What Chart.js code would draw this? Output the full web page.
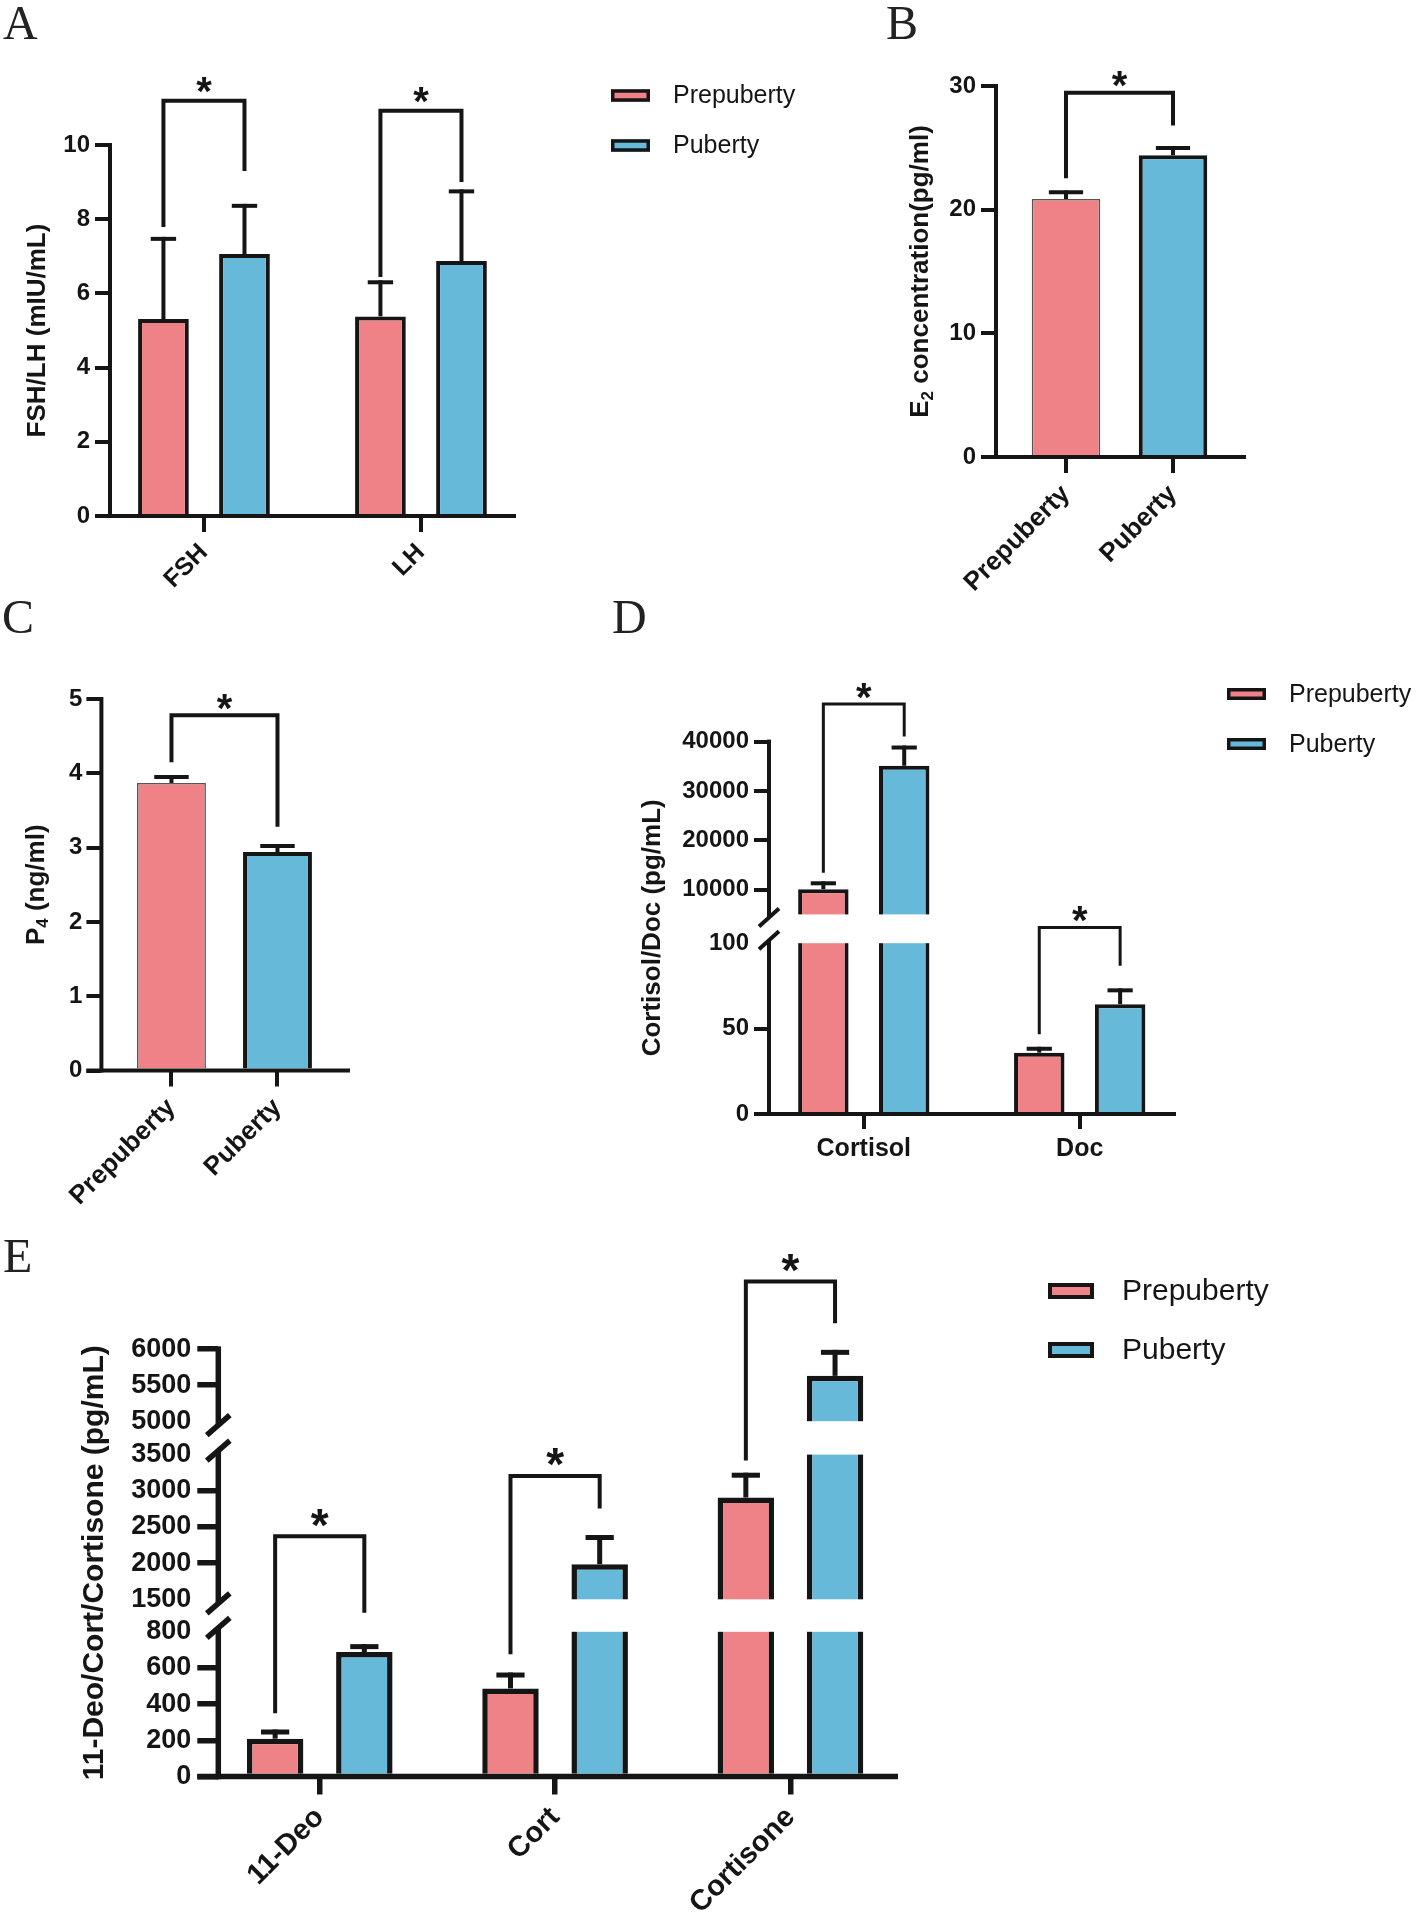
<!DOCTYPE html>
<html>
<head>
<meta charset="utf-8">
<script src="https://cdn.jsdelivr.net/npm/chart.js@4.4.1/dist/chart.umd.min.js"></script>
<style>
  html, body { margin: 0; padding: 0; background: #fff; }
  #page { position: relative; width: 1416px; height: 1918px; background: #fff; }
  #page canvas { position: absolute; left: 0; top: 0; }
</style>
</head>
<body>
<div id="page">
  <canvas id="chartA" width="1416" height="1918"></canvas>
  <canvas id="chartB" width="1416" height="1918"></canvas>
  <canvas id="chartC" width="1416" height="1918"></canvas>
  <canvas id="chartD" width="1416" height="1918"></canvas>
  <canvas id="chartE" width="1416" height="1918"></canvas>
</div>
<script>
// ---------- data ----------
const groups = ['Prepuberty', 'Puberty'];

// A: FSH / LH (mIU/mL)
const gonadLabels = ['FSH', 'LH'];
const gonadPre = [5.31, 5.38];
const gonadPreSD = [2.16, 0.92];
const gonadPub = [7.06, 6.87];
const gonadPubSD = [1.30, 1.88];
const gonadTicks = [0, 2, 4, 6, 8, 10];
// significance brackets: [top, left leg end, right leg end]
const gonadSig = [[11.19, 7.79, 9.30], [10.92, 6.44, 9.00]];

// B: E2 (pg/ml)
const e2Values = [20.86, 24.40];
const e2SD = [0.54, 0.58];
const e2Ticks = [0, 10, 20, 30];
const e2Sig = [[29.46, 22.55, 26.80]];

// C: P4 (ng/ml)
const p4Values = [3.87, 2.94];
const p4SD = [0.08, 0.08];
const p4Ticks = [0, 1, 2, 3, 4, 5];
const p4Sig = [[4.78, 4.15, 3.28]];

// D: Cortisol / Doc (pg/mL), broken axis
const adrenalLabels = ['Cortisol', 'Doc'];
const adrenalPre = [10100, 35.9];
const adrenalPreSD = [1200, 2.3];
const adrenalPub = [35100, 64.3];
const adrenalPubSD = [3700, 8.1];
const adrenalTicks = [0, 50, 100, 10000, 20000, 30000, 40000];
// [value, axis segment]
const adrenalSig = [
  [[47600, 1], [13440, 1], [41050, 1]],
  [[109.2, 0], [46.7, 0], [86.8, 0]]
];

// E: 11-Deo / Cort / Cortisone (pg/mL), broken axis
const steroidLabels = ['11-Deo', 'Cort', 'Cortisone'];
const steroidPre = [209, 487, 2907];
const steroidPreSD = [37, 74, 308];
const steroidPub = [688, 1985, 5629];
const steroidPubSD = [30, 369, 326];
const steroidTicks = [0, 200, 400, 600, 800, 1500, 2000, 2500, 3000, 3500, 5000, 5500, 6000];
const steroidSig = [
  [[1328, 0], [349, 0], [905, 0]],
  [[3203, 1], [676, 0], [2754, 1]],
  [[6939, 2], [3420, 1], [6358, 2]]
];

// ---------- style ----------
const ink = '#151515';
const pink = '#ee8287';
const blue = '#67b9da';
const SANS = "'Liberation Sans', Arial, Helvetica, sans-serif";
const SERIF = "'Liberation Serif', 'Times New Roman', serif";
Chart.defaults.font.family = SANS;
Chart.defaults.color = ink;

// axis breaks (value ranges + pixel share of each piece)
const BREAKS = {
  chartD: { segments: [{min: 0, max: 100, size: 170.8}, {min: 5000, max: 40000, size: 172.8}], gaps: [28.8] },
  chartE: { segments: [{min: 0, max: 800, size: 144.7}, {min: 1500, max: 3500, size: 144.7}, {min: 5000, max: 6000, size: 72.1}], gaps: [32.5, 33.4] }
};

class BrokenScale extends Chart.LinearScale {
  static id = 'broken';
  segPixel(v, seg) {
    const br = BREAKS[this.chart.canvas.id];
    const segs = br.segments;
    if (seg === undefined) {
      seg = segs.findIndex(s => v <= s.max);
      if (seg < 0) seg = segs.length - 1;
    }
    const total = segs.reduce((t, s) => t + s.size, 0) + br.gaps.reduce((t, g) => t + g, 0);
    const k = (this.bottom - this.top) / total;
    let off = 0;
    for (let i = 0; i < seg; i++) off += segs[i].size + br.gaps[i];
    const s = segs[seg];
    return this.bottom - k * (off + (v - s.min) / (s.max - s.min) * s.size);
  }
  getPixelForValue(v) {
    if (v === null || v === undefined || isNaN(v)) return NaN;
    return this.segPixel(v);
  }
}
Chart.register(BrokenScale);

const pix = (sc, v, seg) => sc.segPixel ? sc.segPixel(v, seg) : sc.getPixelForValue(v);

const PANELS = {};

const decor = {
  id: 'decor',
  afterDatasetsDraw(chart) {
    const p = PANELS[chart.canvas.id];
    const br = BREAKS[chart.canvas.id];
    const ctx = chart.ctx, a = chart.chartArea, ys = chart.scales.y;
    const yOf = e => Array.isArray(e) ? pix(ys, e[0], e[1]) : pix(ys, e);
    const line = pts => {
      ctx.beginPath();
      pts.forEach(([x, y], i) => i ? ctx.lineTo(x, y) : ctx.moveTo(x, y));
      ctx.stroke();
    };
    ctx.save();
    ctx.strokeStyle = ink;
    ctx.lineCap = 'butt';
    ctx.lineJoin = 'miter';

    // white band where the axis is cut
    if (br) {
      ctx.fillStyle = '#fff';
      for (let i = 0; i < br.segments.length - 1; i++) {
        const lo = pix(ys, br.segments[i].max, i);
        const hi = pix(ys, br.segments[i + 1].min, i + 1);
        ctx.fillRect(a.left + p.axisW, hi, a.right - a.left, lo - hi);
      }
    }

    // mean + SD
    ctx.lineWidth = p.errW;
    chart.data.datasets.forEach((ds, di) => {
      chart.getDatasetMeta(di).data.forEach((bar, i) => {
        const top = pix(ys, ds.data[i].y + ds.sd[i]);
        const half = bar.width / 4;
        line([[bar.x, bar.y], [bar.x, top - p.errW / 2]]);
        line([[bar.x - half, top], [bar.x + half, top]]);
      });
    });

    // brackets + stars
    ctx.lineWidth = p.sigW;
    ctx.fillStyle = ink;
    ctx.font = `bold ${p.starSize}px ${SANS}`;
    ctx.textAlign = 'center';
    ctx.textBaseline = 'alphabetic';
    const two = chart.data.datasets.length > 1;
    p.sig.forEach((s, i) => {
      const b1 = two ? chart.getDatasetMeta(0).data[i] : chart.getDatasetMeta(0).data[0];
      const b2 = two ? chart.getDatasetMeta(1).data[i] : chart.getDatasetMeta(0).data[1];
      const yt = yOf(s[0]);
      line([[b1.x, yOf(s[1])], [b1.x, yt], [b2.x, yt], [b2.x, yOf(s[2])]]);
      ctx.fillText('*', (b1.x + b2.x) / 2, yt - p.starLift + p.starSize * 0.57);
    });

    // axis lines
    ctx.lineWidth = p.axisW;
    line([[a.left - p.yTick, a.bottom], [a.right, a.bottom]]);
    const segs = br ? br.segments : [{min: ys.min, max: ys.max}];
    const slash = (x, y) => line([[x - p.slash.w / 2, y + p.slash.h / 2], [x + p.slash.w / 2, y - p.slash.h / 2]]);
    segs.forEach((s, i) => {
      const last = i === segs.length - 1;
      let top = pix(ys, s.max, br ? i : undefined);
      let bot = pix(ys, s.min, br ? i : undefined);
      top += last ? -p.axisW / 2 : -p.slash.off;
      bot += i === 0 ? p.axisW / 2 : p.slash.off;
      line([[a.left, top], [a.left, bot]]);
      if (!last) slash(a.left, top);
      if (i > 0) slash(a.left, bot);
    });

    // legend
    if (p.legend) {
      const L = p.legend;
      chart.data.datasets.forEach((ds, i) => {
        const cy = L.y[i];
        ctx.fillStyle = ds.backgroundColor;
        ctx.fillRect(L.x, cy - L.h / 2, L.w, L.h);
        ctx.lineWidth = L.lw;
        ctx.strokeRect(L.x + L.lw / 2, cy - L.h / 2 + L.lw / 2, L.w - L.lw, L.h - L.lw);
        ctx.fillStyle = ink;
        ctx.font = `${L.size}px ${SANS}`;
        ctx.textAlign = 'left';
        ctx.textBaseline = 'middle';
        ctx.fillText(ds.label, L.tx, cy + 1);
      });
    }
    ctx.restore();
  },
  afterDraw(chart) {
    const p = PANELS[chart.canvas.id];
    const ctx = chart.ctx, a = chart.chartArea;
    ctx.save();
    ctx.fillStyle = ink;
    // y title, rotated, with optional subscript
    const big = `bold ${p.title.size}px ${SANS}`;
    const small = `bold ${Math.round(p.title.size * 0.64)}px ${SANS}`;
    ctx.translate(p.title.x, (a.top + a.bottom) / 2);
    ctx.rotate(-Math.PI / 2);
    ctx.textBaseline = 'middle';
    ctx.textAlign = 'left';
    let w = 0;
    p.title.parts.forEach(([t, sub]) => { ctx.font = sub ? small : big; w += ctx.measureText(t).width; });
    let x = -w / 2;
    p.title.parts.forEach(([t, sub]) => {
      ctx.font = sub ? small : big;
      ctx.fillText(t, x, sub ? p.title.size * 0.28 : 0);
      x += ctx.measureText(t).width;
    });
    ctx.restore();
    // panel letter
    ctx.save();
    ctx.fillStyle = '#222';
    ctx.font = `48px ${SERIF}`;
    ctx.textBaseline = 'alphabetic';
    ctx.textAlign = 'left';
    ctx.fillText(p.letter.ch, p.letter.x, p.letter.y);
    ctx.restore();
  }
};

function buildPanel(id, p) {
  PANELS[id] = p;
  const br = BREAKS[id];
  const hidden = br ? br.segments.flatMap((s, i, all) => [i > 0 ? s.min : null, i < all.length - 1 ? s.max : null]).filter(v => v !== null) : [];
  const a = p.area;
  const yw = Math.min(150, Math.floor(a.l));
  const xh = Math.min(200, Math.floor(1918 - a.b));
  const datasets = p.series.map(s => ({
    label: s.label,
    data: s.values.map((v, i) => ({x: i, y: v})),
    sd: s.sd,
    backgroundColor: s.color,
    borderColor: s.edge || ink,
    borderWidth: s.edgeW || p.barEdge,
    borderSkipped: 'start',
    categoryPercentage: p.catPct,
    barPercentage: p.barPct
  }));
  return new Chart(document.getElementById(id), {
    type: 'bar',
    data: { datasets },
    options: {
      responsive: false,
      animation: false,
      devicePixelRatio: 1,
      events: [],
      layout: { padding: { left: a.l - yw, top: a.t, right: 1416 - a.r, bottom: 1918 - a.b - xh } },
      plugins: { legend: { display: false }, tooltip: { enabled: false } },
      scales: {
        x: {
          type: 'linear',
          offset: false,
          min: p.xMin,
          max: p.xMax,
          afterBuildTicks: s => { s.ticks = p.labels.map((_, i) => ({value: i})); },
          afterFit: s => { s.height = xh; },
          border: { display: false },
          grid: { offset: false, drawOnChartArea: false, tickLength: p.xTick, lineWidth: p.axisW, color: ink, tickColor: ink },
          ticks: {
            autoSkip: false, minRotation: p.rot, maxRotation: p.rot, padding: p.xPad, color: ink,
            font: { size: p.xFont, weight: 'bold', family: SANS },
            callback: v => p.labels[v]
          }
        },
        y: {
          type: br ? 'broken' : 'linear',
          min: 0,
          max: p.yMax,
          afterBuildTicks: s => { s.ticks = p.ticks.map(v => ({value: v})); },
          afterFit: s => { s.width = yw; },
          border: { display: false },
          grid: {
            drawOnChartArea: false, tickLength: p.yTick, lineWidth: p.axisW, color: ink,
            tickColor: c => (c.tick && hidden.includes(c.tick.value)) ? 'rgba(0,0,0,0)' : ink
          },
          ticks: {
            autoSkip: false, padding: p.yPad, color: ink,
            font: { size: p.yFont, weight: 'bold', family: SANS },
            callback: v => String(v)
          }
        }
      }
    },
    plugins: [decor]
  });
}

const noSlash = { off: 0, w: 0, h: 0 };

buildPanel('chartA', {
  area: { l: 110, t: 145, r: 516, b: 516 }, xMin: -0.433, xMax: 1.438,
  labels: gonadLabels,
  series: [
    { label: groups[0], values: gonadPre, sd: gonadPreSD, color: pink },
    { label: groups[1], values: gonadPub, sd: gonadPubSD, color: blue }
  ],
  catPct: 0.747, barPct: 0.626, barEdge: 4,
  ticks: gonadTicks, yMax: 10, sig: gonadSig, starLift: 19, starSize: 40,
  axisW: 4, errW: 4, sigW: 4, yTick: 15, xTick: 16, yPad: 5, xPad: 6, yFont: 24, xFont: 25, rot: 45,
  slash: noSlash,
  title: { x: 37.5, size: 26, parts: [['FSH/LH (mIU/mL)']] },
  legend: { x: 611, y: [95.5, 145.5], w: 39, h: 12.5, lw: 3.5, tx: 673, size: 25 },
  letter: { ch: 'A', x: 3, y: 39 }
});

buildPanel('chartB', {
  area: { l: 996, t: 86, r: 1246, b: 457 }, xMin: -0.654, xMax: 1.682,
  labels: groups,
  series: [{ label: 'E2', values: e2Values, sd: e2SD, color: [pink, blue], edge: ['#555', ink], edgeW: [1.5, 4] }],
  catPct: 1, barPct: 0.64, barEdge: 4,
  ticks: e2Ticks, yMax: 30, sig: e2Sig, starLift: 16, starSize: 40,
  axisW: 4, errW: 4, sigW: 4, yTick: 15, xTick: 16, yPad: 5, xPad: 6, yFont: 24, xFont: 26, rot: 45,
  slash: noSlash,
  title: { x: 921, size: 26, parts: [['E'], ['2', true], [' concentration(pg/ml)']] },
  legend: null,
  letter: { ch: 'B', x: 886, y: 39 }
});

buildPanel('chartC', {
  area: { l: 101.4, t: 699, r: 350, b: 1070.5 }, xMin: -0.661, xMax: 1.684,
  labels: groups,
  series: [{ label: 'P4', values: p4Values, sd: p4SD, color: [pink, blue], edge: ['#555', ink], edgeW: [1.5, 4] }],
  catPct: 1, barPct: 0.65, barEdge: 4,
  ticks: p4Ticks, yMax: 5, sig: p4Sig, starLift: 16, starSize: 40,
  axisW: 4, errW: 4, sigW: 4, yTick: 15, xTick: 16, yPad: 4, xPad: 6, yFont: 24, xFont: 26, rot: 45,
  slash: noSlash,
  title: { x: 36.5, size: 26, parts: [['P'], ['4', true], [' (ng/ml)']] },
  legend: null,
  letter: { ch: 'C', x: 2, y: 633 }
});

buildPanel('chartD', {
  area: { l: 769, t: 741.6, r: 1176, b: 1114 }, xMin: -0.439, xMax: 1.446,
  labels: adrenalLabels,
  series: [
    { label: groups[0], values: adrenalPre, sd: adrenalPreSD, color: pink },
    { label: groups[1], values: adrenalPub, sd: adrenalPubSD, color: blue }
  ],
  catPct: 0.749, barPct: 0.624, barEdge: 4,
  ticks: adrenalTicks, yMax: 40000, sig: adrenalSig, starLift: 16, starSize: 40,
  axisW: 4, errW: 4, sigW: 3, yTick: 15, xTick: 15, yPad: 5, xPad: 5, yFont: 24, xFont: 25, rot: 0,
  slash: { off: 3, w: 20, h: 18 },
  title: { x: 653, size: 26, parts: [['Cortisol/Doc (pg/mL)']] },
  legend: { x: 1227, y: [694, 744], w: 39, h: 12, lw: 3.5, tx: 1289, size: 25 },
  letter: { ch: 'D', x: 612, y: 633 }
});

buildPanel('chartE', {
  area: { l: 218.3, t: 1349.1, r: 898, b: 1776.5 }, xMin: -0.431, xMax: 2.457,
  labels: steroidLabels,
  series: [
    { label: groups[0], values: steroidPre, sd: steroidPreSD, color: pink },
    { label: groups[1], values: steroidPub, sd: steroidPubSD, color: blue }
  ],
  catPct: 0.758, barPct: 0.633, barEdge: 5.5,
  ticks: steroidTicks, yMax: 6000, sig: steroidSig, starLift: 22, starSize: 46,
  axisW: 5.5, errW: 5, sigW: 4, yTick: 21, xTick: 18, yPad: 6, xPad: 6, yFont: 27, xFont: 29, rot: 45,
  slash: { off: 4, w: 23, h: 20 },
  title: { x: 95, size: 30, parts: [['11-Deo/Cort/Cortisone (pg/mL)']] },
  legend: { x: 1048, y: [1291, 1350], w: 46, h: 16, lw: 4, tx: 1122, size: 30 },
  letter: { ch: 'E', x: 3, y: 1272 }
});
</script>
</body>
</html>
